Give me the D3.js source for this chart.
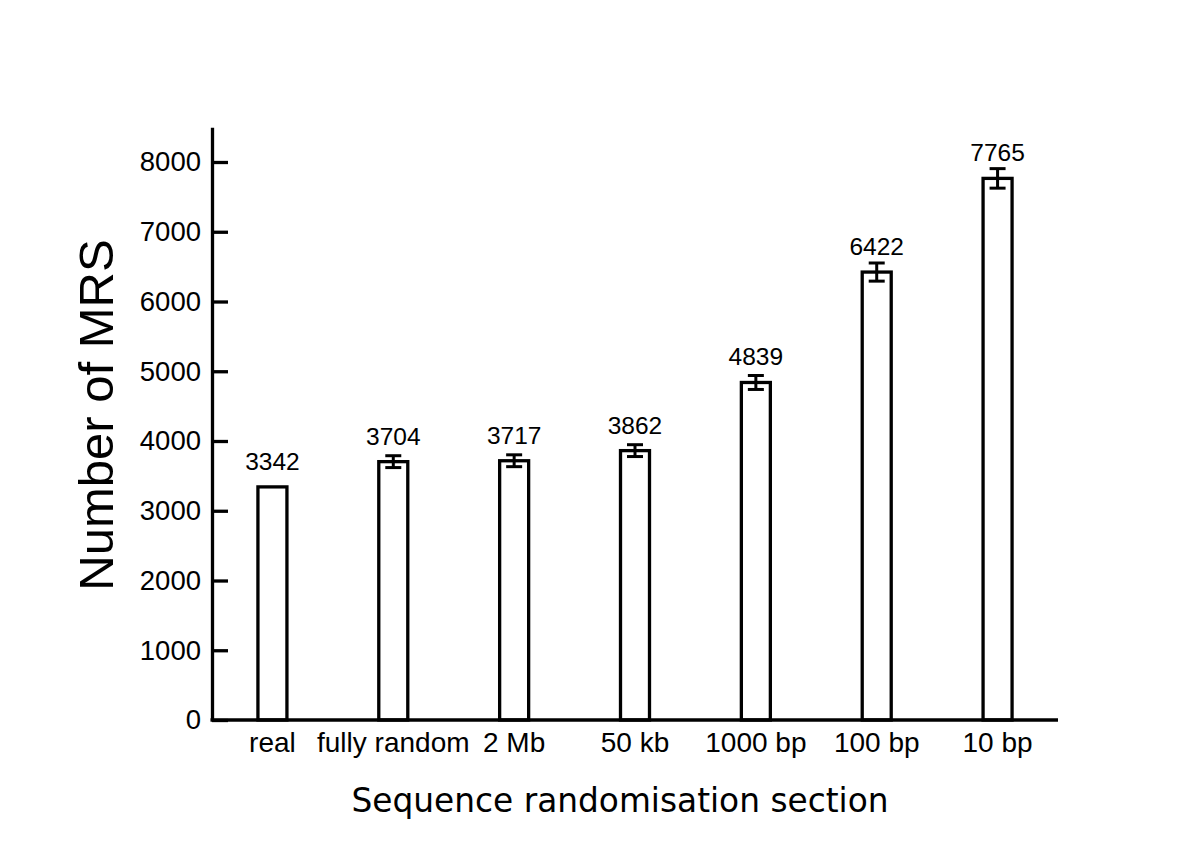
<!DOCTYPE html>
<html>
<head>
<meta charset="utf-8">
<script src="https://cdn.jsdelivr.net/npm/d3@7"></script>
<style>
  body { margin: 0; background: #fff; }
  svg { display: block; }
</style>
</head>
<body>
<svg id="chart" width="1200" height="848"></svg>
<script>
// Categories, means and error bar half-widths
var categories = ["real", "fully random", "2 Mb", "50 kb", "1000 bp", "100 bp", "10 bp"];
var values = [3342, 3704, 3717, 3862, 4839, 6422, 7765];
var errors = [0, 85, 85, 85, 100, 130, 140];
var yTicks = [0, 1000, 2000, 3000, 4000, 5000, 6000, 7000, 8000];

var svg = d3.select("#chart");
var left = 212, right = 1058, bottom = 720;

var x = d3.scalePoint().domain(categories).range([left, right]).padding(0.5);
var y = d3.scaleLinear().domain([0, 8500]).range([bottom, bottom - 8500 * 0.06975]);

var font = "'Liberation Sans', Arial, Helvetica, sans-serif";
var barW = 29;

// bars
var bars = svg.append("g");
bars.selectAll("rect")
  .data(values)
  .enter()
  .append("rect")
    .attr("x", function(d, i) { return x(categories[i]) - barW / 2; })
    .attr("y", function(d) { return y(d); })
    .attr("width", barW)
    .attr("height", function(d) { return y(0) - y(d); })
    .attr("fill", "#fff")
    .attr("stroke", "#000")
    .attr("stroke-width", 3.3);

// error bars
var err = svg.append("g").attr("stroke", "#000").attr("stroke-width", 3);
values.forEach(function(v, i) {
  if (!errors[i]) return;
  var cx = x(categories[i]);
  var lo = y(v - errors[i]), hi = y(v + errors[i]);
  err.append("line").attr("x1", cx).attr("x2", cx).attr("y1", lo).attr("y2", hi);
  err.append("line").attr("x1", cx - 8).attr("x2", cx + 8).attr("y1", lo).attr("y2", lo);
  err.append("line").attr("x1", cx - 8).attr("x2", cx + 8).attr("y1", hi).attr("y2", hi);
});

// value labels
svg.append("g").selectAll("text")
  .data(values)
  .enter()
  .append("text")
    .attr("x", function(d, i) { return x(categories[i]); })
    .attr("y", function(d) { return y(d) - 17; })
    .attr("text-anchor", "middle")
    .attr("font-family", font)
    .attr("font-size", 24.5)
    .attr("fill", "#000")
    .text(function(d) { return d; });

// Y axis, ticks point inward
var yAxis = svg.append("g")
  .attr("transform", "translate(" + left + ",0)")
  .call(d3.axisLeft(y).tickValues(yTicks).tickFormat(d3.format("d"))
    .tickSizeInner(-16).tickSizeOuter(0).tickPadding(11));
yAxis.select(".domain").attr("stroke-width", 3.3);
yAxis.selectAll(".tick line").attr("stroke-width", 3.3);
yAxis.selectAll(".tick text")
  .attr("font-family", font)
  .attr("font-size", 27.5)
  .attr("fill", "#000");

// X axis line
svg.append("line")
  .attr("x1", left - 1.5).attr("x2", right)
  .attr("y1", bottom).attr("y2", bottom)
  .attr("stroke", "#000").attr("stroke-width", 3.3);

// category labels
svg.append("g").selectAll("text")
  .data(categories)
  .enter()
  .append("text")
    .attr("x", function(d) { return x(d); })
    .attr("y", 752)
    .attr("text-anchor", "middle")
    .attr("font-family", font)
    .attr("font-size", 28)
    .attr("fill", "#000")
    .text(function(d) { return d; });

// axis titles
svg.append("text")
  .attr("transform", "translate(113,415) rotate(-90)")
  .attr("text-anchor", "middle")
  .attr("font-family", font)
  .attr("font-size", 49)
  .attr("fill", "#000")
  .text("Number of MRS");

svg.append("text")
  .attr("x", 620)
  .attr("y", 812)
  .attr("text-anchor", "middle")
  .attr("font-family", "'DejaVu Sans', sans-serif")
  .attr("font-size", 32.8)
  .attr("fill", "#000")
  .text("Sequence randomisation section");
</script>
</body>
</html>
